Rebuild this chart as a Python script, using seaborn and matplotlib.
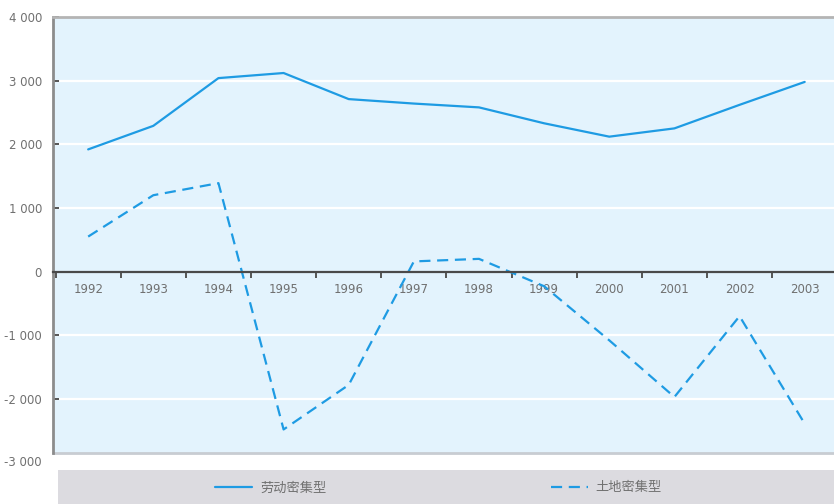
import numpy as np
import pandas as pd
import matplotlib.pyplot as plt
import seaborn as sns
from matplotlib.patches import Rectangle

years = [1992, 1993, 1994, 1995, 1996, 1997, 1998, 1999, 2000, 2001, 2002, 2003]
labor = [1920, 2290, 3040, 3120, 2710, 2640, 2580, 2330, 2120, 2250, 2620, 2980]
land = [550, 1200, 1390, -2480, -1780, 160, 200, -230, -1080, -1970, -700, -2390]
series_names = ['劳动密集型', '土地密集型']
y_ticks = [-2000, -1000, 0, 1000, 2000, 3000, 4000]

df = pd.DataFrame({
    'year': years * 2,
    'value': labor + land,
    'type': [series_names[0]] * len(years) + [series_names[1]] * len(years),
})

sns.set_style('white')
plt.rcParams['font.family'] = ['Noto Sans CJK SC', 'DejaVu Sans']

blue = '#1E9BE3'
gray_txt = '#707070'

fig = plt.figure(figsize=(8.34, 5.04), dpi=100)
ax = fig.add_axes([53 / 834, (504 - 453) / 504, 1 - 53 / 834, (453 - 17) / 504])
ax.set_facecolor('#E3F3FD')

sns.lineplot(data=df, x='year', y='value', style='type', style_order=series_names,
             dashes={series_names[0]: '', series_names[1]: (5, 3)},
             color=blue, linewidth=1.6, ax=ax, legend=True)

ax.set_xlim(1991.46, 2003.45)
ax.set_ylim(-2850, 4000)

# spines first (set_position resets the ticks)
ax.spines['bottom'].set_position(('data', 0))
ax.spines['bottom'].set_color('#4A4A4A')
ax.spines['bottom'].set_linewidth(1.6)
ax.spines['left'].set_color('#8C8C8C')
ax.spines['left'].set_linewidth(2)
ax.spines['top'].set_color('#B4B4B4')
ax.spines['top'].set_linewidth(2)
ax.spines['right'].set_visible(False)
ax.axhline(-2850, color='#C8CCD2', linewidth=2, clip_on=False)

# grid
for v in y_ticks:
    if v != 0:
        ax.axhline(v, color='white', linewidth=1.6, zorder=0.5)

ax.set_yticks(y_ticks)
ax.set_yticklabels([f'{v:,}'.replace(',', ' ') for v in y_ticks], fontsize=8.5, color=gray_txt,
                   family='DejaVu Sans')
ax.text(-0.014, -3000, '-3 000', transform=ax.get_yaxis_transform(), ha='right', va='center',
        fontsize=8.5, color=gray_txt, clip_on=False, family='DejaVu Sans')

ax.set_xticks(years)
ax.set_xticklabels([str(y) for y in years], fontsize=8.5, color=gray_txt, family='DejaVu Sans')
ax.set_xticks([y - 0.5 for y in years], minor=True)
ax.tick_params(axis='x', which='major', bottom=True, length=0, pad=8)
ax.tick_params(axis='x', which='minor', bottom=True, length=4, width=1.4, color='#555555',
               direction='out')
ax.tick_params(axis='y', left=True, length=4, width=1.4, color='#555555', direction='in', pad=8)

ax.set_xlabel('')
ax.set_ylabel('')

# legend band
fig.patches.append(Rectangle((58 / 834, 0), 1 - 58 / 834, (504 - 470) / 504,
                             transform=fig.transFigure, facecolor='#DCDBE0',
                             edgecolor='none', zorder=0))
handles, labels = ax.get_legend_handles_labels()
ax.get_legend().remove()
fig.legend(handles, labels, loc='center', bbox_to_anchor=(0.526, 0.032), ncol=2,
           frameon=False, fontsize=9.5, labelcolor=gray_txt, handlelength=2.8,
           handletextpad=0.6, columnspacing=17)

fig.savefig('out.png', dpi=100)
